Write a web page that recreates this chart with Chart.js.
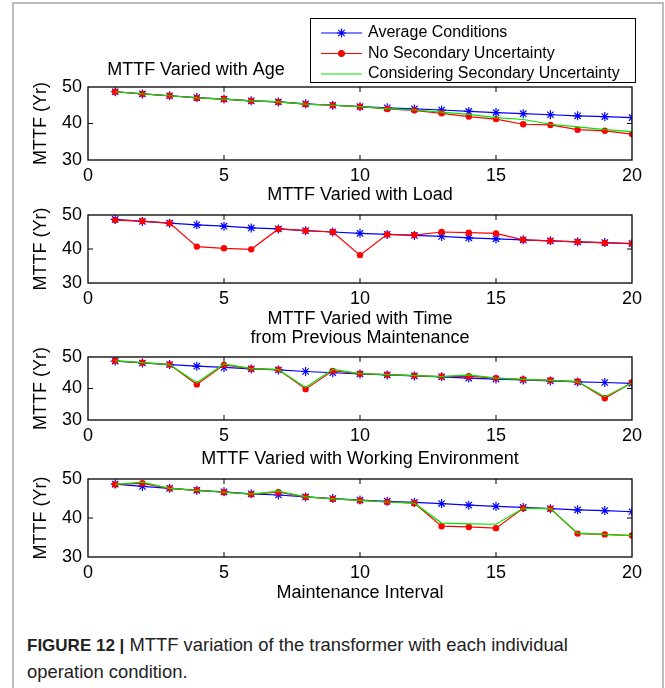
<!DOCTYPE html>
<html>
<head>
<meta charset="utf-8">
<script src="https://cdn.jsdelivr.net/npm/chart.js@4.4.0/dist/chart.umd.min.js"></script>
<style>
  body { margin: 0; background: #fff; }
  #page { position: relative; width: 665px; height: 688px; overflow: hidden; font-family: "Liberation Sans", Arial, sans-serif; }
  #frame { position: absolute; left: 12px; top: 2px; width: 648px; height: 700px;
           border: 2px solid #bdbdbd; border-bottom: none; }
  .panel { position: absolute; left: 0; width: 665px; }
  #caption { position: absolute; left: 27px; top: 632px; margin: 0; width: 610px;
             font-family: "Liberation Sans Narrow", "Arial Narrow", "Liberation Sans", sans-serif;
             font-size: 18.4px; line-height: 26px; color: #222; }
  #caption b { font-family: "Liberation Sans", Arial, sans-serif; font-size: 17px; }
</style>
</head>
<body>
<div id="page">
  <div id="frame"></div>
  <canvas id="age" class="panel"></canvas>
  <canvas id="load" class="panel"></canvas>
  <canvas id="time" class="panel"></canvas>
  <canvas id="env" class="panel"></canvas>
  <p id="caption"><b>FIGURE 12 |</b> MTTF variation of the transformer with each individual<br>operation condition.</p>
</div>

<script>
// maintenance interval (x axis)
let intervals = [1,2,3,4,5,6,7,8,9,10,11,12,13,14,15,16,17,18,19,20];
let xTicks = [0, 5, 10, 15, 20];
let yTicks = [30, 40, 50];

let seriesNames = ['Average Conditions', 'No Secondary Uncertainty', 'Considering Secondary Uncertainty'];

// average conditions (same baseline in every panel)
let averageConditions = [48.7,48.1,47.6,47.1,46.7,46.2,45.9,45.4,45.0,44.6,44.3,44.0,43.7,43.3,43.0,42.7,42.4,42.1,41.9,41.6];

// MTTF varied with age
let ageNoSecondary = [48.7,48.1,47.6,47.0,46.7,46.2,45.9,45.3,45.0,44.6,44.0,43.6,42.8,41.9,41.2,39.8,39.6,38.3,38.0,37.1];
let ageSecondary   = [48.7,48.1,47.6,47.0,46.7,46.2,45.9,45.3,45.0,44.6,44.1,43.7,43.1,42.5,41.6,41.1,39.8,39.1,38.3,37.8];

// MTTF varied with load
let loadNoSecondary = [48.5,48.2,47.6,40.7,40.2,39.9,45.9,45.4,45.0,38.2,44.3,44.1,45.0,44.8,44.6,42.7,42.4,42.1,41.8,41.6];

// MTTF varied with time from previous maintenance
let timeNoSecondary = [48.8,48.2,47.6,41.3,47.5,46.3,46.0,39.8,45.6,44.7,44.4,44.1,43.8,43.9,43.3,42.9,42.6,42.2,36.9,41.9];
let timeSecondary   = [48.8,48.2,47.6,41.8,47.8,46.3,46.0,40.3,46.1,44.7,44.4,44.1,43.8,44.3,43.3,42.9,42.6,42.2,37.4,41.7];

// MTTF varied with working environment
let envNoSecondary = [48.6,48.9,47.6,47.1,46.6,46.1,46.6,45.4,44.9,44.5,44.1,43.8,37.9,37.7,37.4,42.5,42.4,36.0,35.8,35.5];
let envSecondary   = [48.6,49.2,47.6,47.1,46.6,46.1,46.9,45.4,44.9,44.5,44.1,43.8,38.7,38.5,38.4,42.5,42.4,36.1,35.8,35.5];

// turn an array of values into {x, y} points
function pts(values) {
  return intervals.map((x, i) => ({ x: x, y: values[i] }));
}

function avgSet() {
  return { label: seriesNames[0], data: pts(averageConditions), borderColor: '#0000ff',
    backgroundColor: '#0000ff', borderWidth: 1.2, pointStyle: 'star', pointRadius: 4.5,
    pointBorderWidth: 1.2, order: 3 };
}
function noSecSet(values) {
  return { label: seriesNames[1], data: pts(values), borderColor: '#ff0000',
    backgroundColor: '#ff0000', borderWidth: 1.2, pointStyle: 'circle', pointRadius: 3.2,
    pointBorderWidth: 0, order: 2 };
}
function secSet(values) {
  return { label: seriesNames[2], data: pts(values), borderColor: '#00e600',
    backgroundColor: '#00e600', borderWidth: 1.2, pointRadius: 0, order: 1 };
}

const FONT = '"Liberation Sans", Arial, sans-serif';

// frame, inward ticks, titles and (optionally) legend
const panelDecor = {
  id: 'panelDecor',
  afterDraw(chart, args, opts) {
    const ctx = chart.ctx;
    const a = chart.chartArea;
    const xs = chart.scales.x, ys = chart.scales.y;
    ctx.save();
    ctx.strokeStyle = '#000';
    ctx.lineWidth = 1.3;
    ctx.strokeRect(a.left, a.top, a.right - a.left, a.bottom - a.top);
    ctx.lineWidth = 1;
    ctx.beginPath();
    xs.ticks.forEach(t => {
      if (t.value <= xs.min || t.value >= xs.max) return;
      const px = xs.getPixelForValue(t.value);
      ctx.moveTo(px, a.bottom); ctx.lineTo(px, a.bottom - 5);
      ctx.moveTo(px, a.top); ctx.lineTo(px, a.top + 5);
    });
    ys.ticks.forEach(t => {
      if (t.value <= ys.min || t.value >= ys.max) return;
      const py = ys.getPixelForValue(t.value);
      ctx.moveTo(a.left, py); ctx.lineTo(a.left + 5, py);
      ctx.moveTo(a.right, py); ctx.lineTo(a.right - 5, py);
    });
    ctx.stroke();

    // panel title
    ctx.fillStyle = '#000';
    ctx.font = '18px ' + FONT;
    ctx.textAlign = 'center';
    ctx.textBaseline = 'middle';
    opts.title.forEach((line, i) => {
      ctx.fillText(line, opts.titleX, a.top + opts.titleY[i]);
    });

    // legend box
    if (opts.legend) {
      const L = opts.legend;
      ctx.fillStyle = '#fff';
      ctx.fillRect(L.x, L.y, L.w, L.h);
      ctx.strokeStyle = '#000';
      ctx.lineWidth = 1;
      ctx.strokeRect(L.x + 0.5, L.y + 0.5, L.w, L.h);
      ctx.font = '16px ' + FONT;
      ctx.textAlign = 'left';
      chart.data.datasets.forEach((ds, i) => {
        const y = L.y + L.row0 + i * L.rowGap;
        const x0 = L.x + 11, x1 = L.x + 52, xm = (x0 + x1) / 2;
        ctx.strokeStyle = ds.borderColor;
        ctx.lineWidth = ds.borderWidth;
        ctx.beginPath(); ctx.moveTo(x0, y); ctx.lineTo(x1, y); ctx.stroke();
        if (ds.pointRadius > 0) {
          Chart.helpers.drawPoint(ctx, {
            pointStyle: ds.pointStyle, radius: ds.pointRadius, borderWidth: ds.pointBorderWidth, rotation: 0
          }, xm, y);
          ctx.fillStyle = ds.backgroundColor;
          if (ds.pointStyle === 'circle') {
            ctx.beginPath(); ctx.arc(xm, y, ds.pointRadius, 0, Math.PI * 2); ctx.fill();
          }
        }
        ctx.fillStyle = '#000';
        ctx.fillText(ds.label, L.x + 58, y);
      });
    }
    ctx.restore();
  }
};

function makePanel(id, canvasTop, padTop, plotH, xH, datasets, decor, xTitle) {
  const cv = document.getElementById(id);
  cv.style.top = canvasTop + 'px';
  cv.width = 665;
  cv.height = padTop + plotH + xH;
  cv.style.width = '665px';
  cv.style.height = cv.height + 'px';
  return new Chart(cv, {
    type: 'line',
    data: { datasets: datasets },
    options: {
      responsive: false,
      animation: false,
      events: [],
      layout: { padding: { left: 0, right: 33, top: padTop, bottom: 0 } },
      plugins: { legend: { display: false }, tooltip: { enabled: false }, panelDecor: decor },
      scales: {
        x: {
          type: 'linear', min: 0, max: 20,
          afterBuildTicks: s => { s.ticks = xTicks.map(v => ({ value: v })); },
          afterFit: s => { s.height = xH; },
          grid: { display: false, drawTicks: false },
          border: { display: false },
          ticks: { color: '#000', padding: 5, font: { family: FONT, size: 18 }, maxRotation: 0 },
          title: xTitle ? { display: true, text: xTitle, color: '#000', padding: { top: 0, bottom: 13 },
            font: { family: FONT, size: 18 } } : { display: false }
        },
        y: {
          min: 30, max: 50,
          afterBuildTicks: s => { s.ticks = yTicks.map(v => ({ value: v })); },
          afterFit: s => { s.width = 88; },
          grid: { display: false, drawTicks: false },
          border: { display: false },
          ticks: { color: '#000', padding: 6, font: { family: FONT, size: 18 } },
          title: { display: true, text: 'MTTF (Yr)', color: '#000', padding: { top: 30, bottom: 0 },
            font: { family: FONT, size: 18 } }
        }
      }
    },
    plugins: [panelDecor]
  });
}

makePanel('age', 0, 87, 73, 30,
  [avgSet(), noSecSet(ageNoSecondary), secSet(ageSecondary)],
  { title: ['MTTF Varied with Age'], titleX: 196, titleY: [-17],
    legend: { x: 310, y: 18, w: 325, h: 64, row0: 15, rowGap: 20.5 } });

makePanel('load', 170, 45, 68, 30,
  [avgSet(), noSecSet(loadNoSecondary)],
  { title: ['MTTF Varied with Load'], titleX: 360, titleY: [-20] });

makePanel('time', 300, 57, 63, 30,
  [avgSet(), noSecSet(timeNoSecondary), secSet(timeSecondary)],
  { title: ['MTTF Varied with Time', 'from Previous Maintenance'], titleX: 360, titleY: [-38, -19] });

makePanel('env', 440, 39, 78, 60,
  [avgSet(), noSecSet(envNoSecondary), secSet(envSecondary)],
  { title: ['MTTF Varied with Working Environment'], titleX: 360, titleY: [-20] },
  'Maintenance Interval');
</script>
</body>
</html>
